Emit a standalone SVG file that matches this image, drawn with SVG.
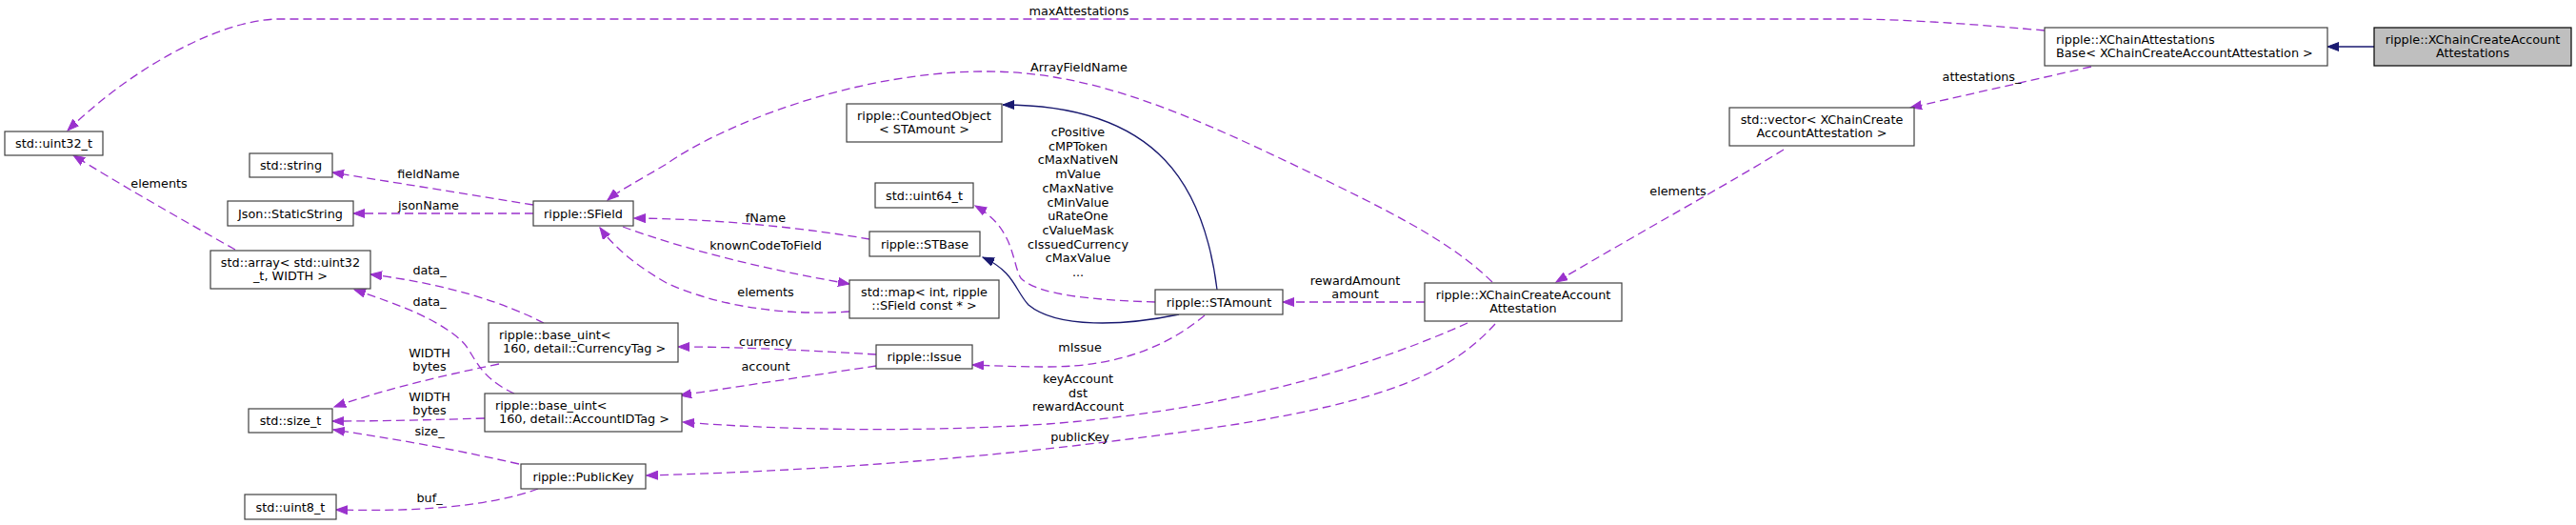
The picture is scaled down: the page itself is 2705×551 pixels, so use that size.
<svg xmlns="http://www.w3.org/2000/svg" width="2705" height="551" viewBox="0 0 2705 551">
<style>
text{font-family:"DejaVu Sans",sans-serif;font-size:12.8px;fill:#000}
.c{text-anchor:middle}
.n rect{fill:#fff;stroke:#404040;stroke-width:1.2}
.n.main rect{fill:#bfbfbf;stroke:#000}
.u{fill:none;stroke:#9a32cd;stroke-width:1.3;stroke-dasharray:9,5;marker-end:url(#ap)}
.i{fill:none;stroke:#191970;stroke-width:1.3;marker-end:url(#an)}
</style>
<defs>
<marker id="ap" markerUnits="userSpaceOnUse" markerWidth="13" markerHeight="10" refX="12" refY="5" orient="auto"><path d="M0,0.5 L12,5 L0,9.5 z" fill="#9a32cd" stroke="#9a32cd"/></marker>
<marker id="an" markerUnits="userSpaceOnUse" markerWidth="13" markerHeight="10" refX="12" refY="5" orient="auto"><path d="M0,0.5 L12,5 L0,9.5 z" fill="#191970" stroke="#191970"/></marker>
</defs>
<rect width="2705" height="551" fill="#fff"/>
<g id="edges">
<path class="i" d="M2493,49 L2444,49"/>
<path class="u" d="M2147,32 C2090,27 2020,21 1950,20 L290,20 C230,22 140,70 71,137"/>
<path class="u" d="M2196,70 L2006,113"/>
<path class="u" d="M1873,157 C1820,190 1720,245 1634,296"/>
<path class="u" d="M1567,296 C1530,260 1480,232 1400,193 C1250,120 1150,75 1035,75 C900,75 760,130 700,172 C670,190 650,200 638,210"/>
<path class="u" d="M1496,317 L1347,317"/>
<path class="u" d="M1541,339 C1450,380 1300,430 1100,445 C950,455 800,450 717,443"/>
<path class="u" d="M1570,340 C1520,395 1450,420 1300,445 C1100,475 900,493 679,499"/>
<path class="u" d="M1213,317 C1150,315 1090,310 1072,292 C1062,275 1066,240 1024,216"/>
<path class="i" d="M1238,330 C1180,342 1110,345 1080,320 C1066,305 1065,285 1032,270"/>
<path class="i" d="M1278,304 C1265,200 1220,110 1053,110"/>
<path class="u" d="M1265,331 C1230,360 1180,385 1100,385 C1070,385 1045,384 1021,383"/>
<path class="u" d="M920,372 C850,368 780,364 712,364"/>
<path class="u" d="M920,384 C860,393 780,405 714,415"/>
<path class="u" d="M913,251 C850,240 760,230 666,229"/>
<path class="u" d="M654,238 C720,262 800,282 892,298"/>
<path class="u" d="M892,327 C820,332 750,320 700,297 C670,280 645,260 630,239"/>
<path class="u" d="M560,215 L349,181"/>
<path class="u" d="M560,224 L371,224"/>
<path class="u" d="M247,262 C190,230 120,190 77,163"/>
<path class="u" d="M571,339 C530,318 470,298 389,288"/>
<path class="u" d="M540,413 C500,395 498,370 485,358 C460,335 420,320 372,304"/>
<path class="u" d="M524,382 C460,395 400,410 351,427"/>
<path class="u" d="M509,439 C440,441 400,442 349,442"/>
<path class="u" d="M545,487 C470,470 410,460 350,451"/>
<path class="u" d="M565,513 C510,533 430,537 353,535"/>
<text class="c" x="1133" y="16">maxAttestations</text>
<text class="c" x="1133" y="75">ArrayFieldName</text>
<text class="c" x="2081" y="85">attestations_</text>
<text class="c" x="1762" y="205">elements</text>
<text class="c" x="1423" y="299">rewardAmount</text>
<text class="c" x="1423" y="313">amount</text>
<text class="c" x="1132" y="402">keyAccount</text>
<text class="c" x="1132" y="416.5">dst</text>
<text class="c" x="1132" y="431">rewardAccount</text>
<text class="c" x="1134" y="463">publicKey</text>
<text class="c" x="1134" y="369">mIssue</text>
<text class="c" x="1132" y="143">cPositive</text>
<text class="c" x="1132" y="157.7">cMPToken</text>
<text class="c" x="1132" y="172.4">cMaxNativeN</text>
<text class="c" x="1132" y="187.1">mValue</text>
<text class="c" x="1132" y="201.8">cMaxNative</text>
<text class="c" x="1132" y="216.5">cMinValue</text>
<text class="c" x="1132" y="231.2">uRateOne</text>
<text class="c" x="1132" y="245.9">cValueMask</text>
<text class="c" x="1132" y="260.6">cIssuedCurrency</text>
<text class="c" x="1132" y="275.3">cMaxValue</text>
<text class="c" x="1132" y="290">...</text>
<text class="c" x="804" y="233">fName</text>
<text class="c" x="804" y="262">knownCodeToField</text>
<text class="c" x="804" y="311">elements</text>
<text class="c" x="804" y="363">currency</text>
<text class="c" x="804" y="389">account</text>
<text class="c" x="450" y="187">fieldName</text>
<text class="c" x="450" y="220">jsonName</text>
<text class="c" x="167" y="197">elements</text>
<text class="c" x="451" y="288">data_</text>
<text class="c" x="451" y="321">data_</text>
<text class="c" x="451" y="375">WIDTH</text>
<text class="c" x="451" y="388.5">bytes</text>
<text class="c" x="451" y="421">WIDTH</text>
<text class="c" x="451" y="434.5">bytes</text>
<text class="c" x="451" y="457">size_</text>
<text class="c" x="451" y="527">buf_</text>
</g>
<g id="main" class="n main"><rect x="2493" y="29" width="207" height="40"/><text class="c" x="2596.5" y="45.5">ripple::XChainCreateAccount</text><text class="c" x="2596.5" y="59.5">Attestations</text></g>
<g id="base" class="n"><rect x="2147" y="29" width="297" height="40"/><text x="2159" y="45.5">ripple::XChainAttestations</text><text x="2159" y="59.5">Base&lt; XChainCreateAccountAttestation &gt;</text></g>
<g id="vector" class="n"><rect x="1816" y="113" width="194" height="40"/><text class="c" x="1913" y="129.5">std::vector&lt; XChainCreate</text><text class="c" x="1913" y="143.5">AccountAttestation &gt;</text></g>
<g id="xccaa" class="n"><rect x="1496" y="297" width="207" height="40"/><text class="c" x="1599.5" y="313.5">ripple::XChainCreateAccount</text><text class="c" x="1599.5" y="327.5">Attestation</text></g>
<g id="stamount" class="n"><rect x="1213" y="304" width="134" height="26"/><text class="c" x="1280" y="321.5">ripple::STAmount</text></g>
<g id="counted" class="n"><rect x="889" y="109" width="163" height="40"/><text class="c" x="970.5" y="125.5">ripple::CountedObject</text><text class="c" x="970.5" y="139.5">&lt; STAmount &gt;</text></g>
<g id="uint64" class="n"><rect x="919" y="192" width="103" height="26"/><text class="c" x="970.5" y="209.5">std::uint64_t</text></g>
<g id="stbase" class="n"><rect x="913" y="243" width="116" height="26"/><text class="c" x="971" y="260.5">ripple::STBase</text></g>
<g id="map" class="n"><rect x="892" y="294" width="157" height="40"/><text class="c" x="970.5" y="310.5">std::map&lt; int, ripple</text><text class="c" x="970.5" y="324.5">::SField const * &gt;</text></g>
<g id="issue" class="n"><rect x="920" y="362" width="101" height="25"/><text class="c" x="970.5" y="379">ripple::Issue</text></g>
<g id="sfield" class="n"><rect x="560" y="211" width="105" height="26"/><text class="c" x="612.5" y="228.5">ripple::SField</text></g>
<g id="string" class="n"><rect x="262" y="161" width="87" height="25"/><text class="c" x="305.5" y="178">std::string</text></g>
<g id="json" class="n"><rect x="239" y="211" width="132" height="26"/><text class="c" x="305" y="228.5">Json::StaticString</text></g>
<g id="array" class="n"><rect x="221" y="263" width="168" height="40"/><text class="c" x="305" y="279.5">std::array&lt; std::uint32</text><text class="c" x="305" y="293.5">_t, WIDTH &gt;</text></g>
<g id="currency" class="n"><rect x="513" y="339" width="199" height="41"/><text x="524" y="355.5">ripple::base_uint&lt;</text><text x="528" y="369.5">160, detail::CurrencyTag &gt;</text></g>
<g id="accountid" class="n"><rect x="509" y="413" width="207" height="40"/><text x="520" y="429.5">ripple::base_uint&lt;</text><text x="524" y="443.5">160, detail::AccountIDTag &gt;</text></g>
<g id="publickey" class="n"><rect x="547" y="487" width="131" height="26"/><text class="c" x="612.5" y="504.5">ripple::PublicKey</text></g>
<g id="sizet" class="n"><rect x="261" y="429" width="88" height="25"/><text class="c" x="305" y="446">std::size_t</text></g>
<g id="uint8" class="n"><rect x="257" y="519" width="96" height="26"/><text class="c" x="305" y="536.5">std::uint8_t</text></g>
<g id="uint32" class="n"><rect x="5" y="138" width="103" height="25"/><text class="c" x="56.5" y="155">std::uint32_t</text></g>
</svg>
